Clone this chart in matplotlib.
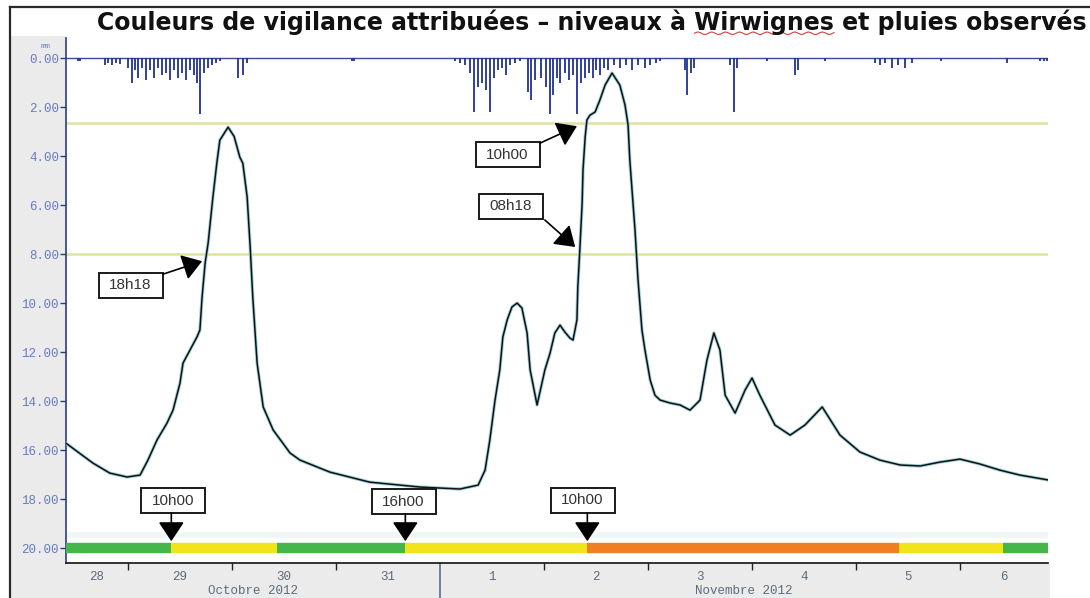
import numpy as np
import matplotlib
matplotlib.use("Agg")
import matplotlib.pyplot as plt
import matplotlib.transforms as mtransforms
from matplotlib.patches import Rectangle
from matplotlib.lines import Line2D

# ---------------- data (time = hours since 28 Oct 2012 00:00) ----------------
level_hours = [9.7, 15.9, 19.8, 23.8, 26.8, 28.6, 30.7, 33.0, 34.4, 36.0, 36.7, 38.3,
               39.9, 40.6, 41.1, 41.8, 42.5, 43.6, 44.5, 45.2, 47.1, 48.5, 49.8, 50.5,
               51.5, 52.2, 52.8, 53.8, 55.2, 57.5, 61.4, 63.7, 70.6, 79.8, 91.4, 100.6,
               104.8, 106.4, 107.5, 108.7, 109.8, 110.5, 111.5, 112.6, 113.8, 114.9,
               116.1, 116.8, 118.4, 120.2, 121.4, 122.5, 123.7, 124.8, 126.0, 126.7,
               127.6, 127.8, 128.3, 128.8, 129.0, 129.5, 129.9, 130.6, 131.8, 132.9,
               134.1, 135.7, 137.5, 138.7, 139.4, 139.8, 141.0, 141.7, 142.6, 143.3,
               144.5, 145.6, 146.8, 149.1, 151.4, 153.7, 156.0, 157.6, 159.2, 160.6,
               161.8, 164.1, 166.4, 168.0, 169.8, 173.3, 176.8, 180.2, 184.2, 188.3,
               192.9, 197.5, 202.2, 206.8, 211.4, 216.0, 220.6, 225.2, 229.8, 236.3]
level_values = [15.72, 16.53, 16.94, 17.10, 17.02, 16.41, 15.59, 14.90, 14.37, 13.27, 12.45, 11.92,
                11.39, 11.10, 9.76, 8.37, 7.55, 5.67, 4.29, 3.35, 2.82, 3.20, 4.04, 4.29,
                5.67, 7.71, 9.76, 12.45, 14.24, 15.18, 16.12, 16.41, 16.90, 17.31, 17.51, 17.59,
                17.43, 16.82, 15.59, 13.96, 12.73, 11.39, 10.69, 10.16, 10.00, 10.20,
                11.22, 12.73, 14.16, 12.73, 12.04, 11.22, 10.90, 11.18, 11.43, 11.51,
                10.69, 9.35, 7.71, 5.92, 4.57, 3.22, 2.53, 2.33, 2.20, 1.71,
                1.10, 0.61, 1.10, 1.92, 2.73, 4.16, 7.02, 9.06, 11.10, 11.92,
                13.14, 13.76, 13.96, 14.08, 14.16, 14.37, 13.96, 12.33, 11.22, 11.92,
                13.76, 14.49, 13.55, 13.06, 13.76, 14.98, 15.39, 14.98, 14.24, 15.39,
                16.08, 16.41, 16.61, 16.65, 16.49, 16.37, 16.57, 16.82, 17.02, 17.22]

rain_hours = [12.5, 12.9, 18.7, 19.4, 20.3, 21.2, 22.2, 24.0, 24.9, 25.6, 26.3, 27.2, 28.2,
              29.1, 30.0, 30.9, 31.8, 32.8, 33.7, 34.6, 35.5, 36.5, 37.4, 38.3, 39.2, 39.9,
              40.6, 41.5, 42.5, 43.4, 44.3, 45.2, 49.4, 50.5, 51.5, 75.7, 76.2,
              99.5, 100.6, 101.8, 102.9, 103.8, 104.8, 105.7, 106.6, 107.5, 108.5, 109.4,
              110.3, 111.2, 112.2, 113.3, 114.5, 116.3, 117.0, 117.9, 119.2, 120.4, 121.3,
              122.0, 122.9, 123.8, 124.8, 125.7, 126.6, 127.5, 128.5, 129.4, 130.3, 131.2,
              132.1, 133.0, 133.9, 134.8, 136.2, 137.5, 138.9, 140.3, 141.7, 143.3, 144.5,
              145.9, 146.8, 152.6, 153.1, 154.0, 154.7, 163.0, 163.9, 164.6, 171.5, 178.0,
              178.7, 184.9, 196.4, 197.5, 198.7, 200.3, 201.7, 203.3, 204.9, 211.6, 226.9,
              234.5, 235.4, 236.1]
rain_mm = [0.1, 0.1, 0.3, 0.2, 0.3, 0.2, 0.25, 0.4, 1.0, 0.5, 0.8, 0.4, 0.9,
           0.5, 0.8, 0.4, 0.7, 0.6, 0.9, 0.5, 0.8, 0.6, 0.9, 0.5, 0.7, 1.0,
           2.3, 0.6, 0.4, 0.3, 0.2, 0.1, 0.8, 0.7, 0.2, 0.1, 0.1,
           0.1, 0.2, 0.3, 0.6, 2.2, 1.2, 1.0, 1.3, 2.2, 0.8, 0.5,
           0.4, 0.7, 0.3, 0.2, 0.1, 1.4, 1.7, 0.9, 0.8, 1.2, 2.3,
           1.5, 0.8, 1.0, 0.6, 0.9, 0.7, 2.3, 1.0, 0.8, 0.6, 0.8,
           0.5, 0.7, 0.4, 0.5, 0.3, 0.4, 0.3, 0.5, 0.3, 0.4, 0.3,
           0.2, 0.1, 0.5, 1.5, 0.6, 0.4, 0.3, 2.2, 0.4, 0.1, 0.7,
           0.5, 0.1, 0.2, 0.3, 0.2, 0.4, 0.3, 0.4, 0.2, 0.1, 0.2,
           0.1, 0.1, 0.1]

threshold_levels = [2.65, 8.0]

vigilance_bounds = [9.7, 34.0, 58.5, 88.0, 130.0, 202.0, 226.0, 236.3]
vigilance_colors = ['#45b649', '#f2e41a', '#45b649', '#f2e41a', '#ef7f22', '#f2e41a', '#45b649']

day_starts = [0, 24, 48, 72, 96, 120, 144, 168, 192, 216]
day_labels = ['28', '29', '30', '31', '1', '2', '3', '4', '5', '6']
month_starts = [0, 96]
month_ends = [96, 336]
month_labels = ['Octobre 2012', 'Novembre 2012']

y_ticks = [0, 2, 4, 6, 8, 10, 12, 14, 16, 18, 20]

ann_labels = ['18h18', '10h00', '08h18', '10h00', '16h00', '10h00']
ann_box = [(24.6, 9.27), (111.6, 3.94), (112.3, 6.04), (34.4, 18.06), (87.6, 18.10), (128.9, 18.04)]
ann_start = [(32.1, 8.82), (119.1, 3.47), (120.2, 6.61), (34.0, 18.57), (88.0, 18.60), (130.0, 18.57)]
ann_tip = [(41.1, 8.29), (127.6, 2.78), (127.2, 7.71), (34.0, 19.72), (88.0, 19.72), (130.0, 19.72)]

title_prefix = "Couleurs de vigilance attribuées \u2013 niveaux à "
title_word = "Wirwignes"
title_suffix = " et pluies observés"

# ---------------- figure ----------------
W, H = 1090, 598
fig = plt.figure(figsize=(W / 100, H / 100), dpi=100)
fig.patch.set_facecolor('white')

def fx(px):
    return px / W

def fy(py):
    return 1 - py / H

# grey label panels and frame (behind the axes)
fig.patches.append(Rectangle((fx(11), 0), fx(66) - fx(11), fy(36), transform=fig.transFigure,
                             facecolor='#ebebeb', edgecolor='none', zorder=-5))
fig.patches.append(Rectangle((fx(11), 0), fx(1050) - fx(11), fy(563), transform=fig.transFigure,
                             facecolor='#ebebeb', edgecolor='none', zorder=-5))
fig.lines.append(Line2D([fx(10), fx(10)], [0, fy(7)], transform=fig.transFigure,
                        color='#2a2a2a', lw=1.6))
fig.lines.append(Line2D([fx(10), 1], [fy(7), fy(7)], transform=fig.transFigure,
                        color='#2a2a2a', lw=1.6))

ax = fig.add_axes([fx(66), fy(563), fx(1048) - fx(66), fy(38) - fy(563)])
ax.set_facecolor('white')
ax.set_xlim(9.7, 236.3)
ax.set_ylim(20.61, -0.82)

# thresholds
for lv in threshold_levels:
    ax.axhline(lv, color='#dfe3a0', lw=1.8, zorder=1)

# faint band above the vigilance strip
ax.axhline(19.45, color='#eef7f5', lw=4, zorder=1)

# rain
ax.axhline(0, color='#3a4c94', lw=1.0, zorder=2)
ax.vlines(rain_hours, 0, rain_mm, color='#1f3191', lw=1.3, zorder=2)

# level curve
ax.plot(level_hours, level_values, color='#9fd0d8', lw=2.4, zorder=3, solid_capstyle='round')
ax.plot(level_hours, level_values, color='#111111', lw=1.1, zorder=4)

# vigilance band
for i, c in enumerate(vigilance_colors):
    ax.plot([vigilance_bounds[i], vigilance_bounds[i + 1]], [20, 20], color=c, lw=7.5,
            solid_capstyle='butt', zorder=3)

# annotations
box_w, box_h = 0.64, 0.25
for lab, (bx, by), (sx, sy), (tx, ty) in zip(ann_labels, ann_box, ann_start, ann_tip):
    tr = fig.dpi_scale_trans + mtransforms.ScaledTranslation(bx, by, ax.transData)
    ax.add_patch(Rectangle((-box_w / 2, -box_h / 2), box_w, box_h, transform=tr,
                           facecolor='white', edgecolor='#1a1a1a', lw=1.4, zorder=6))
    ax.text(bx, by, lab, ha='center', va='center', fontsize=11, family='Liberation Sans',
            color='#333333', zorder=7)
    ax.annotate('', xy=(tx, ty), xytext=(sx, sy),
                arrowprops=dict(arrowstyle='-|>,head_length=1.2,head_width=0.8',
                                mutation_scale=10, color='black', lw=1.2,
                                shrinkA=0, shrinkB=0), zorder=8)

# axes styling
for s in ['top', 'right']:
    ax.spines[s].set_visible(False)
ax.spines['left'].set_color('#2b3f7a')
ax.spines['left'].set_linewidth(1.2)
ax.spines['bottom'].set_color('#111111')
ax.spines['bottom'].set_linewidth(1.2)

ax.set_yticks(y_ticks)
ax.set_yticklabels(['%.2f' % v for v in y_ticks])
ax.tick_params(axis='y', direction='out', length=4, width=1, color='#2b3f7a',
               labelsize=9, labelcolor='#6a7bc2', pad=1)
for t in ax.get_yticklabels():
    t.set_family('Liberation Mono')

xmin, xmax = ax.get_xlim()
ax.set_xticks([d for d in day_starts if xmin < d < xmax and d != 96])
ax.set_xticklabels([])
ax.tick_params(axis='x', which='major', direction='out', length=5, width=1, color='#222222')
centers = [(max(d, xmin) + min(d + 24, xmax)) / 2 for d in day_starts]
ax.set_xticks(centers, minor=True)
ax.set_xticklabels(day_labels, minor=True)
ax.tick_params(axis='x', which='minor', length=0, labelsize=9, labelcolor='#5d6b7c', pad=6)
for t in ax.get_xticklabels(minor=True):
    t.set_family('Liberation Mono')

btrans = mtransforms.blended_transform_factory(ax.transData, ax.transAxes)
for ms, me, ml in zip(month_starts, month_ends, month_labels):
    cx = (max(ms, xmin) + min(me, xmax)) / 2
    ax.text(cx, -0.054, ml, transform=btrans, ha='center', va='center', fontsize=9,
            family='Liberation Mono', color='#5d6b7c', clip_on=False)
# month separator
ax.add_line(Line2D([96, 96], [0, -0.07], transform=btrans, color='#5a6f8a', lw=1.2, clip_on=False))

# unit label
fig.text(fx(46), fy(46), 'mm', ha='center', va='center', fontsize=6, color='#6f7fc0',
         family='Liberation Mono')

# title with spell-check underline
title_kw = dict(fontsize=17, fontweight='bold', family='DejaVu Sans', color='#111111')
full_title = title_prefix + title_word + title_suffix
tt = fig.text(fx(592), fy(22), full_title, ha='center', va='center', **title_kw)
fig.canvas.draw()
r = fig.canvas.get_renderer()
bb = tt.get_window_extent(r)
tmp = fig.text(0, 0, title_prefix.replace(' ', '\u00a0'), **title_kw)
w_pre = tmp.get_window_extent(r).width
tmp.remove()
tmp = fig.text(0, 0, title_word, **title_kw)
w_word = tmp.get_window_extent(r).width
tmp.remove()
xs = np.linspace(bb.x0 + w_pre, bb.x0 + w_pre + w_word, 200)
ys = bb.y0 + 1.5 + 1.2 * np.sin((xs - xs[0]) / 2.2)
fig.lines.append(Line2D(xs, ys, transform=mtransforms.IdentityTransform(), color='#d04040', lw=0.8))

fig.savefig('out.png', dpi=100)
